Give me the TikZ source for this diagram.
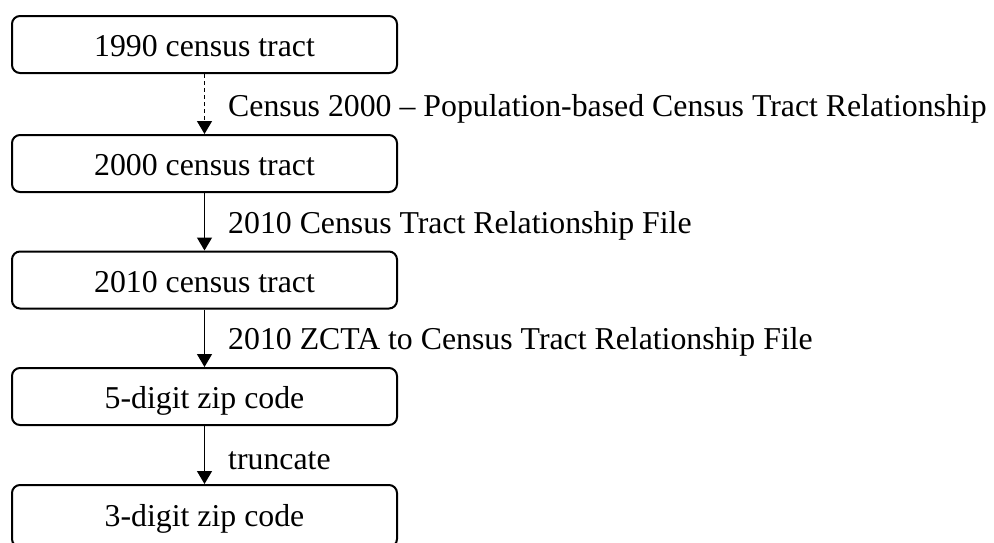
\documentclass[tikz,border=0pt]{standalone}
\usepackage{fontspec}
\setmainfont{Liberation Serif}
\usetikzlibrary{arrows.meta}
\begin{document}
\begin{tikzpicture}[x=1pt,y=-1pt,
  box/.style={draw, line width=2pt, rounded corners=8pt, minimum width=385pt,
    minimum height=57pt, inner sep=0pt, text height=30pt, text depth=6pt,
    font=\fontsize{31.8}{38}\selectfont},
  lbl/.style={anchor=base west, inner sep=0pt, font=\fontsize{31.8}{38}\selectfont},
  conn/.style={line width=1.3pt, -{Triangle[length=13pt,width=15pt]}},
  dconn/.style={conn, dash pattern=on 4pt off 3pt}]
\useasboundingbox (0,0) rectangle (994,542);
\node[box] (b1) at (204.5,44.5) {1990 census tract};
\node[box] (b2) at (204.5,163.5) {2000 census tract};
\node[box] (b3) at (204.5,280) {2010 census tract};
\node[box] (b4) at (204.5,396.5) {5-digit zip code};
\node[box, minimum height=62pt, text depth=10pt] (b5) at (204.5,516) {3-digit zip code};
\draw[dconn] (b1.south) -- (b2.north);
\draw[conn] (b2.south) -- (b3.north);
\draw[conn] (b3.south) -- (b4.north);
\draw[conn] (b4.south) -- (b5.north);
\node[lbl] (l1) at (228,116.7) {Census 2000 – Population-based Census Tract Relationship};
\node[lbl] (l2) at (228,233.5) {2010 Census Tract Relationship File};
\node[lbl] (l3) at (228,349.5) {2010 ZCTA to Census Tract Relationship File};
\node[lbl] (l4) at (228,469) {truncate};
\end{tikzpicture}
\end{document}
